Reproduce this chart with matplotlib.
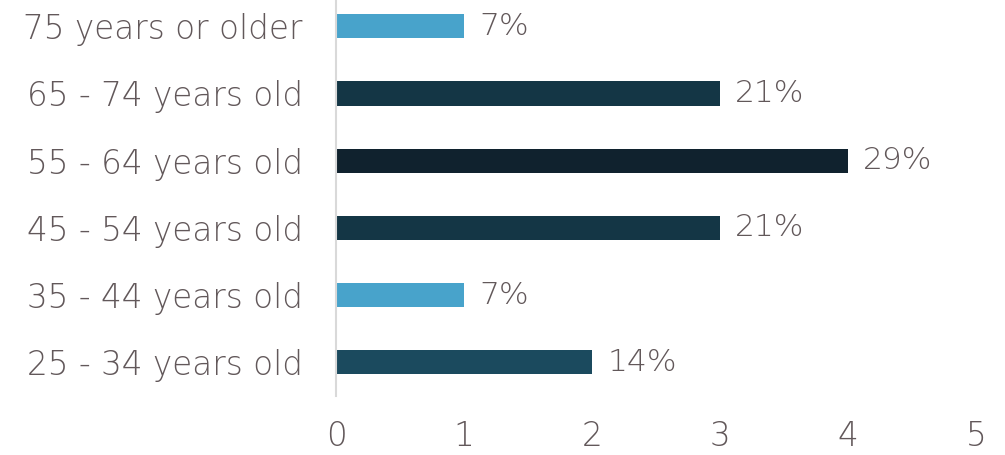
import matplotlib
matplotlib.use("Agg")
import matplotlib.pyplot as plt

categories = ["25 - 34 years old", "35 - 44 years old", "45 - 54 years old",
              "55 - 64 years old", "65 - 74 years old", "75 years or older"]
counts = [2, 1, 3, 4, 3, 1]
pct_labels = ["14%", "7%", "21%", "29%", "21%", "7%"]
colors = ["#1B4A5E", "#48A3CB", "#143645", "#10222E", "#143645", "#48A3CB"]
xticks = [0, 1, 2, 3, 4, 5]

text_color = "#62585A"
plt.rcParams['font.family'] = ['DejaVu Sans']
plt.rcParams['font.weight'] = 'light'

fig = plt.figure(figsize=(10.05, 4.55), dpi=100)
ax = fig.add_axes([336/1005, 1 - 396/455, 640/1005, 396/455])

y = list(range(len(categories)))
ax.barh(y, counts, height=0.36, color=colors)
FS = 23.5
for yi, c, lab in zip(y, counts, pct_labels):
    ax.text(c + 0.12, yi, lab, va='center', ha='left', fontsize=22.5, color=text_color)

ax.set_xlim(0, 5)
ax.set_ylim(-0.5, 5.39)
ax.set_xticks(xticks)
ax.set_xticklabels([str(t) for t in xticks], fontsize=FS, color=text_color)
ax.set_yticks(y)
ax.set_yticklabels(categories, fontsize=FS, color=text_color)
ax.tick_params(axis='both', length=0)
ax.tick_params(axis='x', pad=17)
ax.tick_params(axis='y', pad=24)
for s in ['top', 'right', 'bottom']:
    ax.spines[s].set_visible(False)
ax.spines['left'].set_color('#D9D9D9')
ax.spines['left'].set_linewidth(1.5)

fig.savefig("out.png", dpi=100)
